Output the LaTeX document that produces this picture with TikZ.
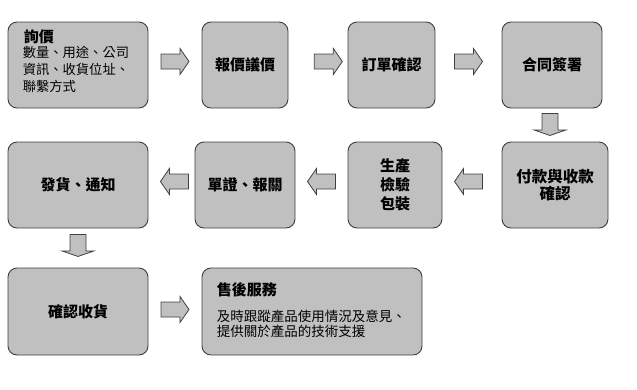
\documentclass[tikz,border=0pt]{standalone}
\usepackage{fontspec}
\setmainfont{Noto Sans CJK TC}
\usetikzlibrary{calc}
\definecolor{boxfill}{HTML}{C0C0C0}
\definecolor{boxline}{HTML}{404040}
\tikzset{
  stepbox/.style={draw=boxline, fill=boxfill, line width=0.9pt, rounded corners=9pt,
    inner sep=0pt, align=center, font=\fontsize{15}{19}\selectfont\bfseries},
  arr/.style={draw=boxline, fill=boxfill, line width=0.8pt, line join=miter},
  smalltext/.style={inner sep=0pt, align=left, font=\fontsize{13.3}{17}\selectfont},
  rarrow/.pic={\draw[arr] (-14,-7.5) -- (5,-7.5) -- (5,-13) -- (14,0) -- (5,13) -- (5,7.5) -- (-14,7.5) -- cycle;},
  darrow/.pic={\draw[arr] (-8,0) -- (-8,16.5) -- (-16,16.5) -- (0,22) -- (16,16.5) -- (8,16.5) -- (8,0) -- cycle;},
}
\begin{document}
\begin{tikzpicture}[x=1pt,y=-1pt]
\useasboundingbox (0,0) rectangle (637,389);
% row 1
\node[stepbox, minimum width=140pt, minimum height=86pt] (b1) at (78,65) {};
\node[stepbox, minimum width=86pt, minimum height=86pt] (b2) at (245,65) {報價議價};
\node[stepbox, minimum width=87pt, minimum height=86pt] (b3) at (391.5,65) {訂單確認};
\node[stepbox, minimum width=100pt, minimum height=86pt] (b4) at (552,65) {合同簽署};
% row 2
\node[stepbox, minimum width=106pt, minimum height=86pt, font=\fontsize{15.5}{17.5}\selectfont\bfseries] (b5) at (555,185) {付款與收款\\確認};
\node[stepbox, minimum width=94pt, minimum height=86pt] (b6) at (395,185) {生產\\檢驗\\包裝};
\node[stepbox, minimum width=100pt, minimum height=86pt] (b7) at (245,185) {單證、報關};
\node[stepbox, minimum width=140pt, minimum height=86pt] (b8) at (78,185) {發貨、通知};
% row 3
\node[stepbox, minimum width=140pt, minimum height=87pt] (b9) at (78,311.5) {確認收貨};
\node[stepbox, minimum width=220pt, minimum height=87pt] (b10) at (312,311.5) {};
% texts in box 1
\node[inner sep=0pt, anchor=base west, font=\fontsize{15}{17}\selectfont\bfseries] (t1) at ([xshift=16pt,yshift=-20.7pt]b1.north west) {詢價};
\node[smalltext, anchor=north west] (t2) at ([xshift=15pt,yshift=-24.5pt]b1.north west) {數量、用途、公司\\資訊、收貨位址、\\聯繫方式};
% texts in box 10
\node[inner sep=0pt, anchor=base west, font=\fontsize{15}{17}\selectfont\bfseries] (t3) at ([xshift=15pt,yshift=-27.7pt]b10.north west) {售後服務};
\node[smalltext, anchor=north west, font=\fontsize{13.5}{15.5}\selectfont] (t4) at ([xshift=15pt,yshift=-42pt]b10.north west) {及時跟蹤產品使用情況及意見、\\提供關於產品的技術支援};
% arrows
\pic at ($(b1.east)!0.5!(b2.west)+(0,-3.5)$) {rarrow};
\pic at ($(b2.east)!0.675!(b3.west)+(0,-3.5)$) {rarrow};
\pic at ($(b3.east)!0.5!(b4.west)+(0,-3.5)$) {rarrow};
\pic at ([xshift=-2pt,yshift=-5pt]b4.south) {darrow};
\pic[rotate=180] at ($(b5.west)!0.558!(b6.east)+(0,-3.5)$) {rarrow};
\pic[rotate=180] at ($(b6.west)!0.5!(b7.east)+(0,-3.5)$) {rarrow};
\pic[rotate=180] at ($(b7.west)!0.436!(b8.east)+(0,-3.5)$) {rarrow};
\pic at ([yshift=-6pt]b8.south) {darrow};
\pic at ($(b9.east)!0.5!(b10.west)+(0,-2)$) {rarrow};
\end{tikzpicture}
\end{document}
